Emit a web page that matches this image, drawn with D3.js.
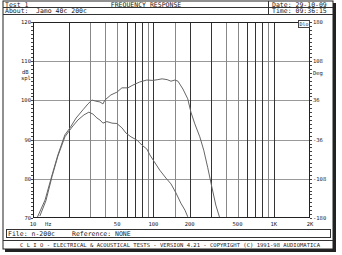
<!DOCTYPE html>
<html><head><meta charset="utf-8">
<script src="https://cdn.jsdelivr.net/npm/d3@7"></script>
<style>body{margin:0;background:#fff}svg{display:block}text{font-family:"DejaVu Sans Mono","Liberation Mono",monospace;fill:#222}</style>
</head><body>
<svg id="c" width="342" height="255"></svg>
<script>
// Upper response curve (Hz, dB SPL)
const freqA = [10.8, 12.6, 14.4, 16.1, 18.4, 20.3, 22.8, 26.0, 28.6, 30.9, 33.3, 36.0, 38.1, 39.6, 44.4, 49.8, 54.8, 61.4, 67.6, 77.0, 88.2, 99.0, 109, 118, 130, 140, 151, 160, 176, 193, 205, 221, 243, 262, 283, 306, 330, 356];
const dbA   = [70.0, 74.6, 81.0, 86.1, 91.2, 93.0, 95.5, 97.6, 99.1, 100.1, 99.8, 99.6, 99.1, 100.1, 101.4, 102.1, 103.2, 103.2, 103.9, 104.7, 105.2, 105.1, 105.3, 105.5, 105.3, 104.9, 105.2, 104.9, 102.9, 100.4, 97.0, 94.0, 90.7, 87.3, 82.8, 77.9, 73.3, 70.0];
// Lower response curve (Hz, dB SPL)
const freqB = [11.4, 12.8, 14.4, 16.1, 18.4, 21.1, 23.6, 26.5, 29.1, 31.5, 34.0, 36.0, 38.1, 41.1, 45.3, 49.8, 54.8, 59.1, 65.1, 72.9, 80.3, 88.2, 93.5, 101, 113, 127, 140, 154, 169, 183, 193];
const dbB   = [70.5, 74.4, 80.6, 85.8, 90.7, 93.2, 95.0, 96.3, 97.0, 96.5, 95.5, 95.0, 94.2, 94.6, 94.2, 94.1, 93.0, 91.7, 90.7, 89.9, 88.6, 87.6, 86.1, 84.5, 82.2, 80.2, 78.7, 76.4, 73.8, 72.0, 70.3];

const xTickValues = [10, 50, 100, 200, 500, 1000, 2000];
const xTickLabels = ["10", "50", "100", "200", "500", "1K", "2K"];
const gridDark = [20, 60, 70, 80, 100, 200, 300, 600, 700, 800, 1000];
const gridLight = [30, 40, 50, 90, 150, 400, 500, 900];
const yTickValues = [70, 80, 90, 100, 110, 120];
const rightTickLabels = ["-180", "-108", "-36", "36", "108", "180"];

const svg = d3.select("#c");
svg.append("rect").attr("width", 342).attr("height", 255).attr("fill", "#fff");

const L = 33, R = 310, T = 22, B = 218;
const x = d3.scaleLog().domain([10, 2000]).range([L, R]);
const y = d3.scaleLinear().domain([70, 120]).range([B, T]);

// outer frame with shadow
svg.append("rect").attr("x", 5).attr("y", 3).attr("width", 331).attr("height", 249).attr("fill", "#222");
svg.append("rect").attr("x", 3).attr("y", 1).attr("width", 330).attr("height", 248).attr("fill", "#fff").attr("stroke", "#222").attr("stroke-width", 1);

// header
const hdr = svg.append("g");
hdr.append("line").attr("x1", 3).attr("x2", 333).attr("y1", 7.5).attr("y2", 7.5).attr("stroke", "#333");
hdr.append("line").attr("x1", 3).attr("x2", 333).attr("y1", 14.5).attr("y2", 14.5).attr("stroke", "#333");
hdr.append("line").attr("x1", 268.5).attr("x2", 268.5).attr("y1", 1).attr("y2", 14.5).attr("stroke", "#333");
const hfs = "6.5px";
hdr.append("text").attr("x", 5).attr("y", 6.5).attr("font-size", hfs).text("Test 1");
hdr.append("text").attr("x", 146).attr("y", 6.5).attr("font-size", hfs).attr("text-anchor", "middle").text("FREQUENCY RESPONSE");
hdr.append("text").attr("x", 272).attr("y", 6.5).attr("font-size", hfs).text("Date: 29-10-09");
hdr.append("text").attr("x", 5).attr("y", 13.3).attr("font-size", hfs).text("About:");
hdr.append("text").attr("x", 36).attr("y", 13.3).attr("font-size", hfs).text("Jamo 40c 200c");
hdr.append("text").attr("x", 272).attr("y", 13.3).attr("font-size", hfs).text("Time: 09:36:15");

// grid
const g = svg.append("g");
g.selectAll(".hg").data(yTickValues.slice(1, -1)).join("line")
  .attr("x1", L).attr("x2", R).attr("y1", d => Math.round(y(d)) + 0.5).attr("y2", d => Math.round(y(d)) + 0.5)
  .attr("stroke", "#999").attr("stroke-width", 1);
g.selectAll(".vl").data(gridLight).join("line")
  .attr("x1", d => Math.round(x(d)) + 0.5).attr("x2", d => Math.round(x(d)) + 0.5).attr("y1", T).attr("y2", B)
  .attr("stroke", "#888").attr("stroke-width", 1);
g.selectAll(".vd").data(gridDark).join("line")
  .attr("x1", d => Math.round(x(d)) + 0.5).attr("x2", d => Math.round(x(d)) + 0.5).attr("y1", T).attr("y2", B)
  .attr("stroke", "#333").attr("stroke-width", 1);

// curves
svg.append("clipPath").attr("id", "clip").append("rect").attr("x", L).attr("y", T).attr("width", R - L).attr("height", B - T);
const line = d3.line().x(d => x(d[0])).y(d => y(d[1]));
const cg = svg.append("g").attr("clip-path", "url(#clip)");
cg.append("path").attr("d", line(freqA.map((f, i) => [f, dbA[i]]))).attr("fill", "none").attr("stroke", "#666").attr("stroke-width", 1);
cg.append("path").attr("d", line(freqB.map((f, i) => [f, dbB[i]]))).attr("fill", "none").attr("stroke", "#666").attr("stroke-width", 1);

// plot border
svg.append("rect").attr("x", L + 0.5).attr("y", T + 0.5).attr("width", R - L - 1).attr("height", B - T - 1)
  .attr("fill", "none").attr("stroke", "#222");

// minor ticks left & right
const minor = d3.range(70, 121, 1);
svg.append("g").selectAll("line").data(minor).join("line")
  .attr("x1", L - 2).attr("x2", L).attr("y1", d => Math.round(y(d)) + 0.5).attr("y2", d => Math.round(y(d)) + 0.5).attr("stroke", "#444");
svg.append("g").selectAll("line").data(minor).join("line")
  .attr("x1", R).attr("x2", R + 2).attr("y1", d => Math.round(y(d)) + 0.5).attr("y2", d => Math.round(y(d)) + 0.5).attr("stroke", "#444");

// axis labels
const afs = "5.5px";
svg.append("g").selectAll("text").data(yTickValues).join("text")
  .attr("x", L - 2).attr("y", d => y(d) + 2).attr("text-anchor", "end").attr("font-size", afs).text(d => d);
svg.append("text").attr("x", 22).attr("y", 74).attr("font-size", afs).text("dB");
svg.append("text").attr("x", 21).attr("y", 80).attr("font-size", afs).text("spl");
svg.append("g").selectAll("text").data(yTickValues).join("text")
  .attr("x", R + 3).attr("y", (d, i) => y(d) + 2).attr("font-size", afs).text((d, i) => rightTickLabels[i]);
svg.append("text").attr("x", R + 3).attr("y", 75).attr("font-size", afs).text("Deg");
svg.append("g").selectAll("text").data(xTickValues).join("text")
  .attr("x", d => x(d)).attr("y", 226).attr("text-anchor", "middle").attr("font-size", afs).text((d, i) => xTickLabels[i]);
svg.append("text").attr("x", 45).attr("y", 226).attr("font-size", afs).text("Hz");

// Dlo marker box
svg.append("rect").attr("x", 298.5).attr("y", 20.5).attr("width", 11).attr("height", 7).attr("fill", "#fff").attr("stroke", "#444");
svg.append("text").attr("x", 304).attr("y", 26).attr("text-anchor", "middle").attr("font-size", "5px").text("Dlo");

// footer
svg.append("rect").attr("x", 6.5).attr("y", 229.5).attr("width", 324).attr("height", 8).attr("fill", "none").attr("stroke", "#333");
svg.append("text").attr("x", 8).attr("y", 236).attr("font-size", hfs).text("File: n-200c");
svg.append("text").attr("x", 72).attr("y", 236).attr("font-size", hfs).text("Reference: NONE");
svg.append("line").attr("x1", 3).attr("x2", 333).attr("y1", 240.5).attr("y2", 240.5).attr("stroke", "#333");
svg.append("text").attr("x", 20).attr("y", 247).attr("font-size", "5.5px").attr("textLength", 300).attr("lengthAdjust", "spacingAndGlyphs")
  .text("C L I O  -  ELECTRICAL & ACOUSTICAL TESTS  -  VERSION 4.21  -  COPYRIGHT (C) 1991-98 AUDIOMATICA");
</script>
</body></html>
